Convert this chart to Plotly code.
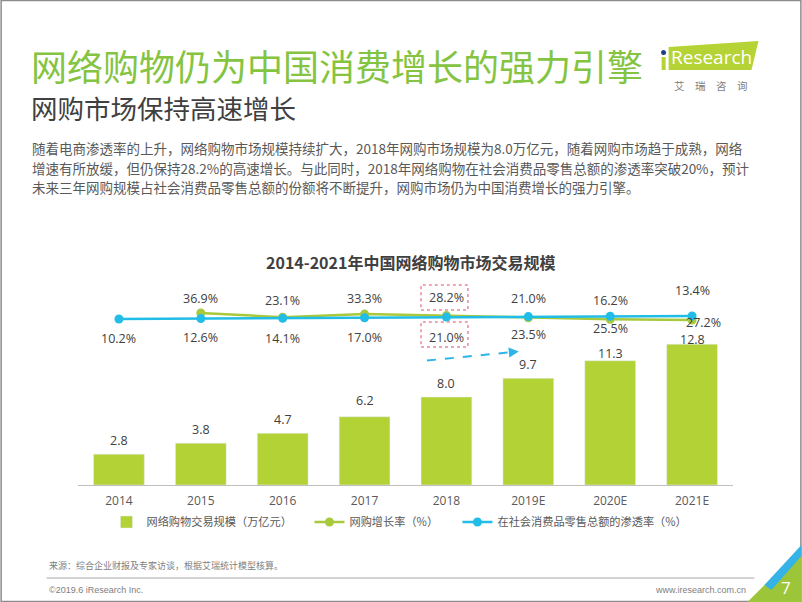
import plotly.graph_objects as go

# ---------------- data ----------------
years = ["2014", "2015", "2016", "2017", "2018", "2019E", "2020E", "2021E"]
market_size = [2.8, 3.8, 4.7, 6.2, 8.0, 9.7, 11.3, 12.8]           # 万亿元
growth_years = ["2015", "2016", "2017", "2018", "2019E", "2020E", "2021E"]
growth_rate = [36.9, 23.1, 33.3, 28.2, 21.0, 16.2, 13.4]             # %
penetration = [10.2, 12.6, 14.1, 17.0, 21.0, 23.5, 25.5, 27.2]       # %

title_main = "网络购物仍为中国消费增长的强力引擎"
title_sub = "网购市场保持高速增长"
body_lines = [
    "随着电商渗透率的上升，网络购物市场规模持续扩大，2018年网购市场规模为8.0万亿元，随着网购市场趋于成熟，网络",
    "增速有所放缓，但仍保持28.2%的高速增长。与此同时，2018年网络购物在社会消费品零售总额的渗透率突破20%，预计",
    "未来三年网购规模占社会消费品零售总额的份额将不断提升，网购市场仍为中国消费增长的强力引擎。",
]
chart_title = "2014-2021年中国网络购物市场交易规模"
legend_names = ["网络购物交易规模（万亿元）", "网购增长率（%）", "在社会消费品零售总额的渗透率（%）"]
source_text = "来源：综合企业财报及专家访谈，根据艾瑞统计模型核算。"

# ---------------- style ----------------
W, H = 802, 602
L, R, T, B = 77.5, 733.5, 285.0, 485.0
FONT = "Open Sans, Noto Sans CJK SC, sans-serif"
CJK = "Noto Sans CJK SC, sans-serif"
BAR_C = "#b2d235"
GREEN_C = "#a8c93b"
BLUE_C = "#22bde6"
TXT = "#404040"

bar_shift = [14, 14, 14, 16, 14, 14, 7, 5]
growth_shift = [15, 17, 16, 18, 19, 19, 30]
pen_shift = [-19, -19, -20, -20, -20, -18, -12, -7]
pen_xshift = [0, 0, 0, 0, 0, 0, 0, 11]


def px(x):
    return (x - L) / (R - L)


def py(y):
    return (B - y) / (B - T)


fig = go.Figure()
fig.add_trace(go.Bar(x=years, y=market_size, name=legend_names[0],
                     marker_color=BAR_C, width=0.62, yaxis="y", legendwidth=158))
fig.add_trace(go.Scatter(x=growth_years, y=growth_rate, name=legend_names[1],
                         mode="lines+markers", yaxis="y2", legendwidth=103,
                         line=dict(color=GREEN_C, width=2.5),
                         marker=dict(size=9, color=GREEN_C), cliponaxis=False))
fig.add_trace(go.Scatter(x=years, y=penetration, name=legend_names[2],
                         mode="lines+markers", yaxis="y3",
                         line=dict(color=BLUE_C, width=2.5),
                         marker=dict(size=9, color=BLUE_C), cliponaxis=False))

ann = []
for i, (v, s) in enumerate(zip(market_size, bar_shift)):
    ann.append(dict(x=i, y=v, xref="x", yref="y", text=f"{v:.1f}",
                    showarrow=False, yshift=s,
                    font=dict(size=12.5, color=TXT, family=FONT)))
for yr, v, s in zip(growth_years, growth_rate, growth_shift):
    ann.append(dict(x=years.index(yr), y=v, xref="x", yref="y2", text=f"{v:.1f}%",
                    showarrow=False, yshift=s,
                    font=dict(size=12.5, color=TXT, family=FONT)))
for i, (v, s, xs) in enumerate(zip(penetration, pen_shift, pen_xshift)):
    ann.append(dict(x=i, y=v, xref="x", yref="y3", text=f"{v:.1f}%", showarrow=False,
                    yshift=s, xshift=xs, font=dict(size=12.5, color=TXT, family=FONT)))

# page texts
ann.append(dict(x=px(28), y=py(65.5), xref="paper", yref="paper", text=title_main,
                showarrow=False, xanchor="left", yanchor="middle",
                font=dict(size=36, color="#84c441", family=CJK)))
ann.append(dict(x=px(28), y=py(107), xref="paper", yref="paper", text=title_sub,
                showarrow=False, xanchor="left", yanchor="middle",
                font=dict(size=26.5, color=TXT, family=CJK)))
for i, line in enumerate(body_lines):
    ann.append(dict(x=px(29), y=py(148 + 19.5 * i), xref="paper", yref="paper", text=line,
                    showarrow=False, xanchor="left", yanchor="middle",
                    font=dict(size=13.5, color="#595959", family=CJK)))
ann.append(dict(x=px(411), y=py(262), xref="paper", yref="paper", text="<b>" + chart_title + "</b>",
                showarrow=False, xanchor="center", yanchor="middle",
                font=dict(size=16, color=TXT, family=CJK)))
# logo
ann.append(dict(x=px(712), y=py(57), xref="paper", yref="paper", text="Research",
                showarrow=False, xanchor="center", yanchor="middle",
                font=dict(size=19, color="white", family="Open Sans, sans-serif")))
ann.append(dict(x=px(711), y=py(85), xref="paper", yref="paper", text="艾　瑞　咨　询",
                showarrow=False, xanchor="center", yanchor="middle",
                font=dict(size=10.5, color="#808080", family=CJK)))
# footer
ann.append(dict(x=px(46), y=py(565), xref="paper", yref="paper", text=source_text,
                showarrow=False, xanchor="left", yanchor="middle",
                font=dict(size=9, color="#808080", family=CJK)))
ann.append(dict(x=px(46), y=py(590), xref="paper", yref="paper", text="©2019.6 iResearch Inc.",
                showarrow=False, xanchor="left", yanchor="middle",
                font=dict(size=9, color="#808080", family="Liberation Sans Narrow, Liberation Sans, sans-serif")))
ann.append(dict(x=px(749), y=py(590), xref="paper", yref="paper", text="www.iresearch.com.cn",
                showarrow=False, xanchor="right", yanchor="middle",
                font=dict(size=9, color="#808080", family="Liberation Sans Narrow, Liberation Sans, sans-serif")))
ann.append(dict(x=px(787), y=py(587), xref="paper", yref="paper", text="7",
                showarrow=False, xanchor="center", yanchor="middle",
                font=dict(size=17, color="white", family="Open Sans, sans-serif")))
# arrow head
ann.append(dict(x=px(519), y=py(351.5), xref="paper", yref="paper", text="", showarrow=True,
                ax=-10, ay=1, arrowhead=2, arrowsize=1, arrowwidth=2, arrowcolor="#2cb5e8"))

shapes = []
# frame
shapes.append(dict(type="rect", xref="paper", yref="paper", x0=px(0.5), x1=px(801.5),
                   y0=py(601.5), y1=py(0.5), line=dict(color="#8c8c8c", width=1.5)))


def path(pts):
    return "M " + " L ".join(f"{px(a):.5f},{py(b):.5f}" for a, b in pts) + " Z"


# logo parallelogram
shapes.append(dict(type="path", xref="paper", yref="paper",
                   path=path([(669, 47), (759, 41), (752, 70), (669, 70)]),
                   fillcolor="#b5d334", line=dict(width=0)))
shapes.append(dict(type="circle", xref="paper", yref="paper", x0=px(661.5), x1=px(666.5),
                   y0=py(55), y1=py(50), fillcolor="#1f3c88", line=dict(width=0)))
shapes.append(dict(type="rect", xref="paper", yref="paper", x0=px(662), x1=px(666),
                   y0=py(70), y1=py(57), fillcolor="#b5d334", line=dict(width=0)))
# dotted boxes
shapes.append(dict(type="rect", xref="paper", yref="paper", x0=px(421), x1=px(468),
                   y0=py(310), y1=py(285), line=dict(color="#e88a9a", width=1.5, dash="dot")))
shapes.append(dict(type="rect", xref="paper", yref="paper", x0=px(421), x1=px(468),
                   y0=py(347), y1=py(322), line=dict(color="#e88a9a", width=1.5, dash="dot")))
# dashed arrow line
shapes.append(dict(type="line", xref="paper", yref="paper", x0=px(427), y0=py(360.5),
                   x1=px(512), y1=py(352.2), line=dict(color="#2cb5e8", width=2, dash="dash")))
# footer line
shapes.append(dict(type="line", xref="paper", yref="paper", x0=px(46), x1=px(755),
                   y0=py(578), y1=py(578), line=dict(color="#a6a6a6", width=1)))
# corner
shapes.append(dict(type="path", xref="paper", yref="paper",
                   path=path([(748, 602), (802, 548), (802, 602)]),
                   fillcolor="#9cc53a", line=dict(width=0)))
shapes.append(dict(type="path", xref="paper", yref="paper",
                   path=path([(765, 585), (802, 545), (802, 556), (772, 590)]),
                   fillcolor="#35b3e6", line=dict(width=0)))

fig.update_layout(
    width=W, height=H,
    margin=dict(l=L, r=W - R, t=T, b=H - B, pad=0),
    paper_bgcolor="white", plot_bgcolor="white",
    font=dict(family=FONT, color=TXT),
    showlegend=True,
    legend=dict(orientation="h", x=px(106), y=py(522), xanchor="left", yanchor="middle",
                font=dict(size=11.2, color="#595959", family=CJK),
                itemwidth=30, traceorder="normal", bgcolor="rgba(0,0,0,0)"),
    xaxis=dict(type="category", categoryorder="array", categoryarray=years,
               range=[-0.5, 7.5], showgrid=False, showline=True, linecolor="#bfbfbf",
               linewidth=1, ticks="", ticklabelstandoff=5,
               tickfont=dict(size=12, color="#595959", family=FONT),
               fixedrange=True),
    yaxis=dict(range=[0, (B - T) / 11.0], visible=False, fixedrange=True),
    yaxis2=dict(range=[36.9 - (B - 313) / 0.30, 36.9 + (313 - T) / 0.30], overlaying="y",
                visible=False, fixedrange=True),
    yaxis3=dict(range=[10.2 - (B - 319) / 0.18, 10.2 + (319 - T) / 0.18], overlaying="y",
                visible=False, fixedrange=True),
    annotations=ann,
    shapes=shapes,
)

fig.write_html("out.html", config={"displayModeBar": False},
               post_script="document.body.style.margin='0';document.body.style.overflow='hidden';")
